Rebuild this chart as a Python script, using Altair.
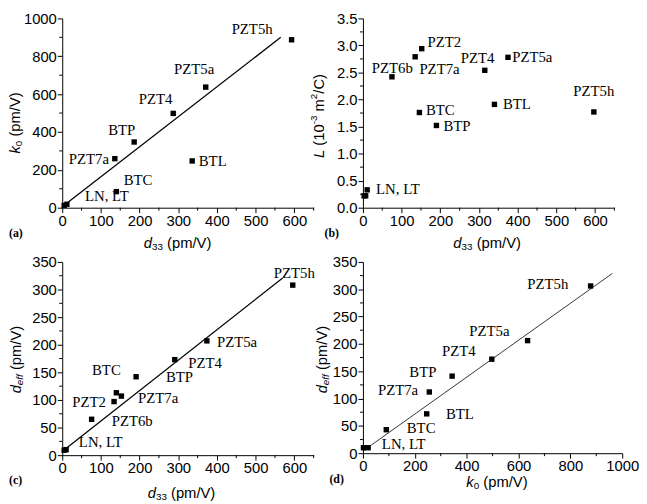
import altair as alt
import pandas as pd

# ---------------- data ----------------
# Panel (a): k0 vs d33
a_d33 = [593, 371, 287, 186, 136, 336, 140, 5, 12]
a_k0 = [887, 637, 498, 347, 259, 247, 85, 12, 18]
a_lab = ["PZT5h", "PZT5a", "PZT4", "BTP", "PZT7a", "BTL", "BTC", "LN, LT"]
a_lab_x = [438, 289, 198, 119, 17, 353, 159, 59]
a_lab_y = [941, 733, 573, 411, 255, 246, 146, 59]
a_fit_x = [0, 565]
a_fit_y = [5, 900]

# Panel (b): L vs d33
b_d33 = [152, 135, 75, 315, 375, 597, 340, 146, 190, 7, 11, 3]
b_L = [2.94, 2.79, 2.42, 2.54, 2.78, 1.77, 1.91, 1.76, 1.52, 0.22, 0.33, 0.22]
b_lab = ["PZT2", "PZT7a", "PZT6b", "PZT4", "PZT5a", "PZT5h", "BTL", "BTC", "BTP", "LN, LT"]
b_lab_x = [167, 146, 23, 253, 386, 544, 362, 163, 208, 34]
b_lab_y = [3.06, 2.56, 2.59, 2.77, 2.78, 2.16, 1.91, 1.81, 1.50, 0.35]

# Panel (c): d_eff vs d33
c_d33 = [596, 374, 291, 191, 140, 153, 134, 76, 5, 10]
c_deff = [308, 207, 173, 142, 113, 107, 97, 65, 9, 10]
c_lab = ["PZT5h", "PZT5a", "PZT4", "BTP", "BTC", "PZT2", "PZT7a", "PZT6b", "LN, LT"]
c_lab_x = [547, 400, 326, 268, 77, 26, 196, 128, 43]
c_lab_y = [329, 205, 167, 141, 155, 97, 103, 61, 23]
c_fit_x = [4, 570]
c_fit_y = [9, 321]

# Panel (d): d_eff vs k0
d_k0 = [878, 635, 497, 344, 256, 246, 90, 2, 20]
d_deff = [306, 206, 172, 141, 112, 72, 43, 10, 10]
d_lab = ["PZT5h", "PZT5a", "PZT4", "BTP", "PZT7a", "BTL", "BTC", "LN, LT"]
d_lab_x = [634, 410, 305, 179, 58, 320, 169, 73]
d_lab_y = [309, 224, 186, 149, 116, 71, 46, 16]
d_fit_x = [0, 962]
d_fit_y = [4, 329]

# axis tick values
ticks_d33_major = [0, 100, 200, 300, 400, 500, 600]
ticks_d33_minor = [50, 150, 250, 350, 450, 550, 650]
ticks_k0y_major = [0, 200, 400, 600, 800, 1000]
ticks_k0y_minor = [100, 300, 500, 700, 900]
ticks_L_major = [0.0, 0.5, 1.0, 1.5, 2.0, 2.5, 3.0, 3.5]
ticks_L_minor = [0.25, 0.75, 1.25, 1.75, 2.25, 2.75, 3.25]
ticks_deff_major = [0, 50, 100, 150, 200, 250, 300, 350]
ticks_deff_minor = [25, 75, 125, 175, 225, 275, 325]
ticks_k0x_major = [0, 200, 400, 600, 800, 1000]
ticks_k0x_minor = [100, 300, 500, 700, 900]

# ---------------- helpers ----------------
SANS = "Liberation Sans"
SERIF = "Liberation Serif"
W = {'d': .556, 'k': .5, 'L': .556, '0': .556, '1': .556, '2': .556, '3': .556,
     'e': .556, 'f': .278, ' ': .278, '(': .333, ')': .333, 'p': .556, 'm': .833,
     '/': .278, 'V': .667, 'C': .722, '-': .333}


def tw(s, size):
    return sum(W.get(ch, .556) for ch in s) * size


def axis(values, fmt):
    return alt.Axis(values=values, format=fmt, title=None, grid=False, tickSize=5,
                    tickWidth=1, tickColor="black", domainColor="black", domainWidth=1,
                    labelFont=SANS, labelFontSize=15, labelColor="black",
                    labelFlush=False, labelOverlap=False, labelPadding=1)


def title_layers(pieces, x, y, vertical):
    total = sum(tw(t, s) for t, s, _, _ in pieces)
    off = -total / 2
    out = []
    for t, s, it, sh in pieces:
        lead = len(t) - len(t.lstrip(" "))
        txt = t.lstrip(" ")
        out.append(
            alt.Chart(pd.DataFrame({"t": [txt]})).mark_text(
                align="left", baseline="middle", font=SANS, fontSize=s,
                fontStyle="italic" if it else "normal", angle=270 if vertical else 0,
                dx=off + tw(" " * lead, s), dy=sh, color="black"
            ).encode(text="t:N", x=alt.value(x), y=alt.value(y))
        )
        off += tw(t, s)
    return out


def panel(px, py, lab, lx, ly, fx, fy, xdom, ydom, xmaj, xmin, ymaj, ymin,
          xfmt, yfmt, w, h, xtitle, ytitle, xt_pos, yt_pos, letter, letter_pos, fit_w):
    xs = alt.Scale(domain=xdom, nice=False, zero=False)
    ys = alt.Scale(domain=ydom, nice=False, zero=False)
    X = alt.X("x:Q", scale=xs, axis=axis(xmaj, xfmt))
    Y = alt.Y("y:Q", scale=ys, axis=axis(ymaj, yfmt))
    layers = []
    layers.append(alt.Chart(pd.DataFrame({"x": px, "y": py})).mark_square(
        size=30, color="black", opacity=1).encode(x=X, y=Y))
    if fx is not None:
        layers.append(alt.Chart(pd.DataFrame({"x": fx, "y": fy})).mark_line(
            color="black", strokeWidth=fit_w).encode(x=X, y=Y))
    layers.append(alt.Chart(pd.DataFrame({"x": lx, "y": ly, "t": lab})).mark_text(
        align="left", baseline="middle", font=SERIF, fontSize=15, color="black"
    ).encode(x=X, y=Y, text="t:N"))
    # minor ticks
    layers.append(alt.Chart(pd.DataFrame({"x": xmin})).mark_rule(
        color="black", strokeWidth=1).encode(x=X, y=alt.value(h), y2=alt.value(h + 3)))
    layers.append(alt.Chart(pd.DataFrame({"y": ymin})).mark_rule(
        color="black", strokeWidth=1).encode(y=Y, x=alt.value(0), x2=alt.value(-3)))
    layers += title_layers(xtitle, xt_pos[0], xt_pos[1], False)
    layers += title_layers(ytitle, yt_pos[0], yt_pos[1], True)
    layers.append(alt.Chart(pd.DataFrame({"t": [letter]})).mark_text(
        align="left", baseline="middle", font=SERIF, fontSize=12, fontWeight="bold",
        color="black").encode(text="t:N", x=alt.value(letter_pos[0]), y=alt.value(letter_pos[1])))
    return alt.layer(*layers).properties(width=w, height=h)


T_D33 = [("d", 15, True, 0), ("33", 10, False, 4), (" (pm/V)", 15, False, 0)]
T_K0 = [("k", 15, True, 0), ("0", 10, False, 4), (" (pm/V)", 15, False, 0)]
T_L = [("L", 15, True, 0), (" (10", 15, False, 0), ("-3", 10, False, -5),
       (" m", 15, False, 0), ("2", 10, False, -5), ("/C)", 15, False, 0)]
T_DEFF = [("d", 15, True, 0), ("eff", 10, True, 4), (" (pm/V)", 15, False, 0)]

pa = panel(a_d33, a_k0, a_lab, a_lab_x, a_lab_y, a_fit_x, a_fit_y,
           [0, 650], [0, 1000], ticks_d33_major, ticks_d33_minor,
           ticks_k0y_major, ticks_k0y_minor, "d", "d", 255, 192,
           T_D33, T_K0, (117, 228), (-48, 106), "(a)", (-54, 218), 1.3)
pb = panel(b_d33, b_L, b_lab, b_lab_x, b_lab_y, None, None,
           [0, 650], [0, 3.5], ticks_d33_major, ticks_d33_minor,
           ticks_L_major, ticks_L_minor, "d", ".1f", 255, 192,
           T_D33, T_L, (126, 228), (-45, 99), "(b)", (-39, 218), 1.3)
pc = panel(c_d33, c_deff, c_lab, c_lab_x, c_lab_y, c_fit_x, c_fit_y,
           [0, 650], [0, 350], ticks_d33_major, ticks_d33_minor,
           ticks_deff_major, ticks_deff_minor, "d", "d", 255, 196,
           T_D33, T_DEFF, (121, 234), (-47, 99), "(c)", (-54, 221), 1.3)
pd_ = panel(d_k0, d_deff, d_lab, d_lab_x, d_lab_y, d_fit_x, d_fit_y,
            [0, 1000], [0, 350], ticks_k0x_major, ticks_k0x_minor,
            ticks_deff_major, ticks_deff_minor, "d", "d", 263, 194,
            T_K0, T_DEFF, (136, 223), (-41, 99), "(d)", (-34, 220), 0.8)

chart = alt.concat(pa, pb, pc, pd_, columns=2, spacing={"row": 55, "column": 50},
                   bounds="flush").properties(
    padding=0, background="white"
).configure_view(stroke=None)

chart.save("out.html", embed_options={"renderer": "svg", "actions": False})
